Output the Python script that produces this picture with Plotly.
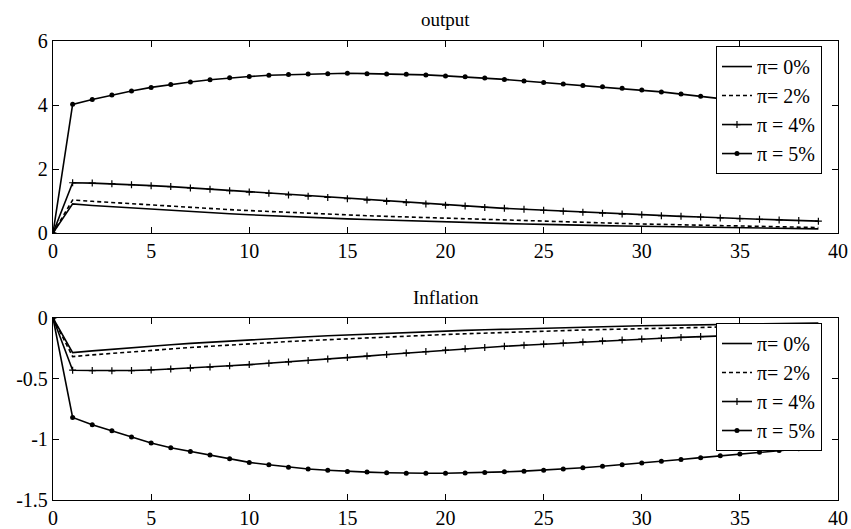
import plotly.graph_objects as go

t = list(range(40))
labels = ["π= 0%", "π= 2%", "π = 4%", "π = 5%"]
y1_ticks = [0, 2, 4, 6]
y1_text = ["0", "2", "4", "6"]
y2_ticks = [-1.5, -1, -0.5, 0]
y2_text = ["-1.5", "-1", "-0.5", "0"]

out_0 = [0, 0.91, 0.86, 0.82, 0.78, 0.74, 0.70, 0.67, 0.63, 0.60, 0.57, 0.54, 0.52, 0.49, 0.47, 0.44,
         0.42, 0.40, 0.38, 0.36, 0.34, 0.33, 0.31, 0.29, 0.28, 0.27, 0.25, 0.24, 0.23, 0.22, 0.21,
         0.20, 0.19, 0.18, 0.17, 0.16, 0.15, 0.14, 0.14, 0.13]
out_2 = [0, 1.03, 0.99, 0.95, 0.91, 0.87, 0.83, 0.80, 0.76, 0.73, 0.70, 0.67, 0.64, 0.61, 0.59, 0.56,
         0.54, 0.52, 0.50, 0.48, 0.46, 0.44, 0.42, 0.40, 0.38, 0.36, 0.34, 0.33, 0.31, 0.30, 0.28,
         0.27, 0.25, 0.24, 0.23, 0.22, 0.21, 0.20, 0.18, 0.17]
out_4 = [0, 1.57, 1.56, 1.54, 1.51, 1.48, 1.45, 1.41, 1.37, 1.32, 1.28, 1.24, 1.19, 1.15, 1.11, 1.07,
         1.03, 0.99, 0.95, 0.91, 0.87, 0.84, 0.80, 0.77, 0.74, 0.71, 0.68, 0.65, 0.62, 0.59, 0.57,
         0.54, 0.52, 0.50, 0.47, 0.45, 0.43, 0.41, 0.39, 0.37]
out_5 = [0, 4.02, 4.17, 4.31, 4.44, 4.55, 4.64, 4.72, 4.79, 4.85, 4.89, 4.93, 4.95, 4.97, 4.98, 4.99,
         4.98, 4.97, 4.96, 4.94, 4.91, 4.88, 4.84, 4.80, 4.75, 4.70, 4.66, 4.61, 4.57, 4.52, 4.47,
         4.41, 4.34, 4.27, 4.20, 4.13, 4.06, 3.99, 3.92, 3.85]

inf_0 = [0, -0.285, -0.271, -0.257, -0.244, -0.232, -0.220, -0.209, -0.199, -0.189, -0.180, -0.171,
         -0.162, -0.154, -0.146, -0.139, -0.132, -0.125, -0.119, -0.113, -0.108, -0.102, -0.097,
         -0.092, -0.088, -0.083, -0.079, -0.075, -0.071, -0.068, -0.064, -0.061, -0.058, -0.055,
         -0.052, -0.050, -0.047, -0.045, -0.043, -0.041]
inf_2 = [0, -0.318, -0.304, -0.291, -0.278, -0.266, -0.254, -0.243, -0.233, -0.222, -0.213, -0.203,
         -0.194, -0.186, -0.178, -0.170, -0.163, -0.156, -0.149, -0.142, -0.136, -0.130, -0.124,
         -0.119, -0.114, -0.109, -0.104, -0.099, -0.095, -0.091, -0.087, -0.083, -0.080, -0.076,
         -0.073, -0.070, -0.067, -0.064, -0.061, -0.058]
inf_4 = [0, -0.430, -0.433, -0.435, -0.433, -0.428, -0.421, -0.413, -0.404, -0.394, -0.384, -0.373,
         -0.362, -0.350, -0.338, -0.326, -0.314, -0.301, -0.289, -0.277, -0.265, -0.254, -0.243,
         -0.233, -0.224, -0.215, -0.206, -0.197, -0.189, -0.181, -0.174, -0.167, -0.160, -0.153,
         -0.147, -0.141, -0.135, -0.130, -0.125, -0.120]
inf_5 = [0, -0.82, -0.88, -0.93, -0.98, -1.03, -1.07, -1.10, -1.13, -1.16, -1.19, -1.21, -1.23,
         -1.245, -1.255, -1.265, -1.27, -1.275, -1.28, -1.28, -1.28, -1.278, -1.274, -1.268, -1.262,
         -1.254, -1.245, -1.234, -1.222, -1.209, -1.196, -1.181, -1.166, -1.151, -1.136, -1.121,
         -1.106, -1.091, -1.077, -1.065]

FONT = "Liberation Serif"
styles = [
    dict(mode="lines", line=dict(color="black", width=1.6)),
    dict(mode="lines", line=dict(color="black", width=1.6, dash="4px,3px")),
    dict(mode="lines+markers", line=dict(color="black", width=1.6),
         marker=dict(symbol="cross-thin", size=5, line=dict(color="black", width=1.2))),
    dict(mode="lines+markers", line=dict(color="black", width=1.6),
         marker=dict(symbol="circle", size=5, color="black")),
]

fig = go.Figure()
for lab, ys, st in zip(labels, [out_0, out_2, out_4, out_5], styles):
    fig.add_trace(go.Scatter(x=t, y=ys, name=lab, xaxis="x", yaxis="y", legend="legend", **st))
for lab, ys, st in zip(labels, [inf_0, inf_2, inf_4, inf_5], styles):
    fig.add_trace(go.Scatter(x=t, y=ys, name=lab, xaxis="x2", yaxis="y2", legend="legend2", **st))

ax_common = dict(showline=True, linecolor="black", linewidth=1.4, mirror="ticks",
                 ticks="inside", ticklen=6, tickcolor="black", tickwidth=1,
                 showgrid=False, zeroline=False, automargin=False,
                 tickfont=dict(family=FONT, size=20, color="black"))

legend_common = dict(bgcolor="white", bordercolor="black", borderwidth=1,
                     font=dict(family=FONT, size=20, color="black"),
                     xanchor="right", yanchor="top", x=0.9796,
                     itemwidth=30, tracegroupgap=0)

plot_h = 529 - 41 - 29

fig.update_layout(
    width=851, height=529,
    margin=dict(l=53, r=13, t=41, b=29),
    plot_bgcolor="white", paper_bgcolor="white",
    font=dict(family=FONT, color="black"),
    xaxis=dict(domain=[0, 1], range=[0, 40], dtick=5, anchor="y", **ax_common),
    yaxis=dict(domain=[0.5817, 1], range=[0, 6], tickvals=y1_ticks, ticktext=y1_text,
               anchor="x", **ax_common),
    xaxis2=dict(domain=[0, 1], range=[0, 40], dtick=5, anchor="y2", **ax_common),
    yaxis2=dict(domain=[0, 0.3965], range=[-1.5, 0], tickvals=y2_ticks, ticktext=y2_text,
                anchor="x2", **ax_common),
    legend=dict(y=0.989, **legend_common),
    legend2=dict(y=0.3856, **legend_common),
    annotations=[
        dict(text="output", x=0.5, y=(500 - 19) / plot_h, xref="paper", yref="paper",
             yanchor="middle", showarrow=False, font=dict(family=FONT, size=19, color="black")),
        dict(text="Inflation", x=0.5, y=(500 - 297) / plot_h, xref="paper", yref="paper",
             yanchor="middle", showarrow=False, font=dict(family=FONT, size=19, color="black")),
    ],
)

fig.write_html("out.html")
